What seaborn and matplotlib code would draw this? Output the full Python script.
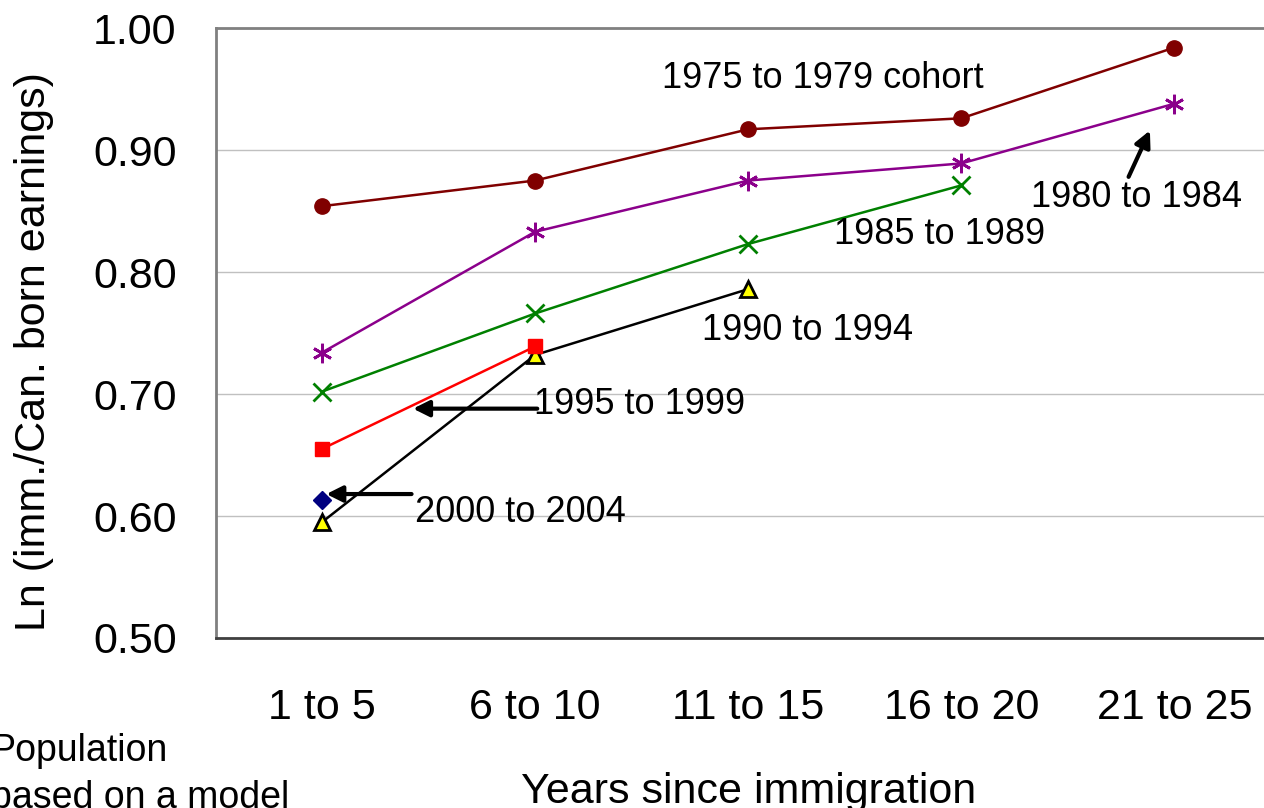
import numpy as np
import pandas as pd
import seaborn as sns
import matplotlib.pyplot as plt

# values
periods = ["1 to 5", "6 to 10", "11 to 15", "16 to 20", "21 to 25"]
c1975 = [0.854, 0.875, 0.917, 0.926, 0.984]
c1980 = [0.734, 0.833, 0.875, 0.889, 0.938]
c1985 = [0.702, 0.766, 0.823, 0.871]
c1990 = [0.595, 0.732, 0.786]
c1995 = [0.655, 0.739]
c2000 = [0.613]

cohorts = {"1975 to 1979": c1975, "1980 to 1984": c1980, "1985 to 1989": c1985,
           "1990 to 1994": c1990, "1995 to 1999": c1995, "2000 to 2004": c2000}
rows = []
for name, vals in cohorts.items():
    for i, v in enumerate(vals):
        rows.append({"cohort": name, "pos": i, "value": v})
df = pd.DataFrame(rows)

sns.set_style("white")
plt.rcParams['font.family'] = ['Liberation Sans', 'DejaVu Sans']
plt.rcParams['text.color'] = 'black'
plt.rcParams['axes.labelcolor'] = 'black'
plt.rcParams['xtick.color'] = 'black'
plt.rcParams['ytick.color'] = 'black'

fig = plt.figure(figsize=(12.64, 8.08), dpi=100)
ax = fig.add_axes([0.1705, 0.2104, 0.8429, 0.7549])

colors = {"1975 to 1979": "#800000", "1980 to 1984": "#8b008b", "1985 to 1989": "#008000",
          "1990 to 1994": "black", "1995 to 1999": "#ff0000", "2000 to 2004": "#000080"}
marks = {"1975 to 1979": "o", "1980 to 1984": (6, 2, 0), "1985 to 1989": "x",
         "1990 to 1994": "^", "1995 to 1999": "s", "2000 to 2004": "D"}
msize = {"1975 to 1979": 11, "1980 to 1984": 14, "1985 to 1989": 13,
         "1990 to 1994": 12, "1995 to 1999": 10, "2000 to 2004": 9}

for name in cohorts:
    sub = df[df["cohort"] == name]
    face = "#ffff00" if name == "1990 to 1994" else colors[name]
    edge = "black" if name == "1990 to 1994" else colors[name]
    sns.lineplot(data=sub, x="pos", y="value", ax=ax, color=colors[name],
                 marker=marks[name], markersize=msize[name], markerfacecolor=face,
                 markeredgecolor=edge, markeredgewidth=2 if name in ("1990 to 1994", "1980 to 1984", "1985 to 1989") else 1,
                 linewidth=1.8, legend=False, zorder=3)

ax.set_xlim(-0.5, 4.5)
ax.set_ylim(0.5, 1.0)
ax.set_yticks(np.arange(0.5, 1.01, 0.1))
ax.set_yticklabels([f"{v:.2f}" for v in np.arange(0.5, 1.01, 0.1)], fontsize=31)
ax.set_xticks(range(len(periods)))
ax.set_xticklabels(periods, fontsize=31)
ax.set_xticks([0.5, 1.5, 2.5, 3.5], minor=True)
ax.tick_params(axis="x", which="major", length=0, pad=36)
ax.tick_params(axis="x", which="minor", direction="in", length=15, width=1, color="black")
ax.tick_params(axis="y", length=0, pad=28)
ax.yaxis.grid(True, color="#c0c0c0", linewidth=1)
ax.set_axisbelow(True)
for s in ["left", "top", "right"]:
    ax.spines[s].set_color("#808080")
    ax.spines[s].set_linewidth(2)
ax.spines["bottom"].set_color("#404040")
ax.spines["bottom"].set_linewidth(2)

ax.set_xlabel("Years since immigration", fontsize=31, labelpad=32)
ax.set_ylabel("Ln (imm./Can. born earnings)", fontsize=31)
ax.yaxis.set_label_coords(-0.152, 0.47)

# cohort labels
fs = 26
ax.text(2.35, 0.959, "1975 to 1979 cohort", fontsize=fs, ha="center", va="center")
ax.text(3.82, 0.861, "1980 to 1984", fontsize=fs, ha="center", va="center")
ax.text(2.90, 0.831, "1985 to 1989", fontsize=fs, ha="center", va="center")
ax.text(2.28, 0.752, "1990 to 1994", fontsize=fs, ha="center", va="center")
ax.text(1.49, 0.691, "1995 to 1999", fontsize=fs, ha="center", va="center")
ax.text(0.93, 0.603, "2000 to 2004", fontsize=fs, ha="center", va="center")
arrow = dict(arrowstyle="-|>", color="black", lw=3, mutation_scale=24, shrinkA=0, shrinkB=0)
ax.annotate("", xy=(3.885, 0.916), xytext=(3.785, 0.878), arrowprops=arrow)
ax.annotate("", xy=(0.427, 0.688), xytext=(1.01, 0.688), arrowprops=arrow)
ax.annotate("", xy=(0.02, 0.618), xytext=(0.42, 0.618), arrowprops=arrow)

fig.text(-0.007, 0.070, "Population", fontsize=27, ha="left", va="center")
fig.text(-0.007, 0.012, "based on a model", fontsize=27, ha="left", va="center")

fig.savefig("out.png", dpi=100)
